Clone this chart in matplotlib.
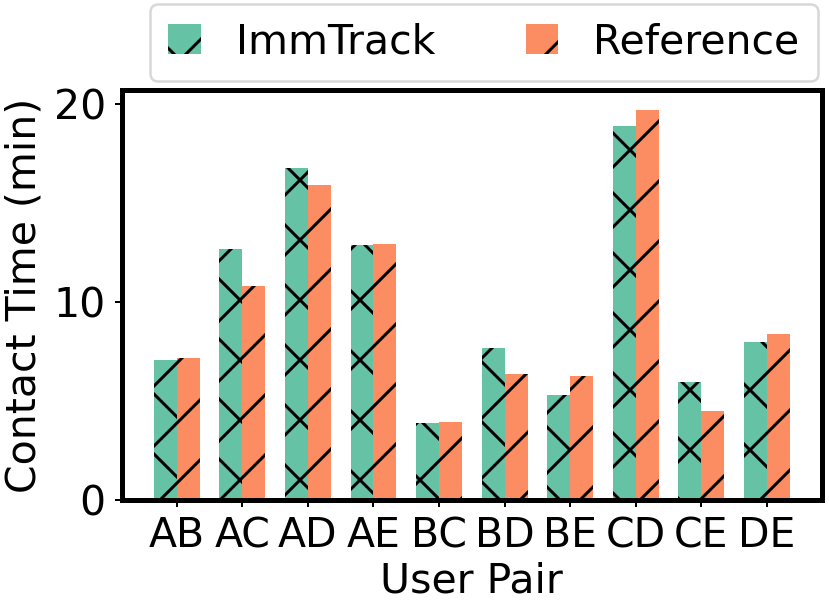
import matplotlib
matplotlib.use("Agg")
import matplotlib.pyplot as plt
import numpy as np

OUT = "out.png"

pairs = ["AB", "AC", "AD", "AE", "BC", "BD", "BE", "CD", "CE", "DE"]
immtrack = [7.09, 12.67, 16.77, 12.87, 3.90, 7.68, 5.28, 18.87, 5.98, 7.97]
reference = [7.19, 10.79, 15.90, 12.92, 3.95, 6.37, 6.24, 19.70, 4.47, 8.39]

DPI = 180
plt.rcParams["hatch.linewidth"] = 1.2
plt.rcParams["font.size"] = 16.4

fig = plt.figure(figsize=(830 / DPI, 604 / DPI), dpi=DPI)
ax = fig.add_axes([0.147, 0.172, 0.843, 0.679])

x = np.arange(len(pairs))
w = 0.35
ax.bar(x - w / 2, immtrack, w, color="#66c2a5", hatch="x", label="ImmTrack")
ax.bar(x + w / 2, reference, w, color="#fc8d62", hatch="/", label="Reference")

ax.set_xticks(x)
ax.set_xticklabels(pairs)
ax.set_yticks([0, 10, 20])
ax.set_xlabel("User Pair", labelpad=1.9)
ax.set_ylabel("Contact Time (min)", labelpad=3.7)
for s in ax.spines.values():
    s.set_linewidth(2.0)
ax.tick_params(length=2.8, width=0.8, pad=3.7)

fig.legend(loc="upper center", bbox_to_anchor=(0.583, 1.0), ncol=2,
           handlelength=0.8, handleheight=0.75, handletextpad=0.85,
           columnspacing=2.2, borderpad=0.45, borderaxespad=0.1,
           framealpha=1, edgecolor="#d8d8d8")

fig.savefig(OUT, dpi=DPI)
